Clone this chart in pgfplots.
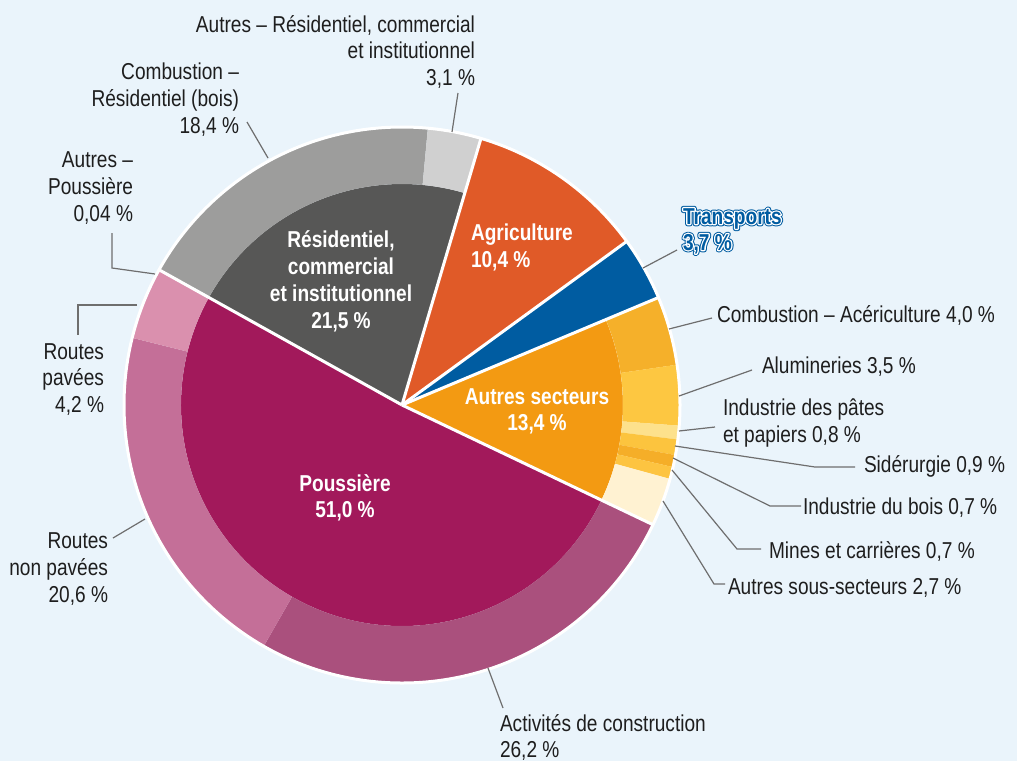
\documentclass[border=0pt]{standalone}
\usepackage{pgfplots}
\pgfplotsset{compat=1.18}
\usepackage{fontspec}
\setmainfont[FakeStretch=0.83]{Liberation Sans}

\definecolor{bg}{HTML}{EAF4FB}
\definecolor{txt}{HTML}{1E1E1E}
\definecolor{lead}{HTML}{6E6E6E}
\definecolor{resid}{HTML}{575756}
\definecolor{bois}{HTML}{9D9D9C}
\definecolor{autresres}{HTML}{D0D0D0}
\definecolor{agri}{HTML}{E05A28}
\definecolor{transp}{HTML}{005CA1}
\definecolor{autsect}{HTML}{F39A12}
\definecolor{acer}{HTML}{F5B02A}
\definecolor{alu}{HTML}{FDC741}
\definecolor{pates}{HTML}{FDE18C}
\definecolor{sider}{HTML}{FCC43E}
\definecolor{iboiss}{HTML}{F5AE28}
\definecolor{mines}{HTML}{FDC441}
\definecolor{autsous}{HTML}{FFF2D2}
\definecolor{pouss}{HTML}{A2195B}
\definecolor{constr}{HTML}{AA507D}
\definecolor{nonpav}{HTML}{C46F98}
\definecolor{pav}{HTML}{DA90AE}
\definecolor{autpous}{HTML}{E7B5C9}

% running angle, segment drawn from values (percent)
\gdef\curang{0}
\newcommand\setang[1]{\xdef\curang{#1}}
\newcommand\seg[4]{% percent, r inner, r outer, colour
  \pgfmathsetmacro\segend{\curang-3.6*#1}%
  \edef\doseg{\noexpand\fill[#4] ([shift={(\curang:#3pt)}]axis cs:402,405)
     arc[start angle=\curang, end angle=\segend, radius=#3pt]
     -- ([shift={(\segend:#2pt)}]axis cs:402,405)
     arc[start angle=\segend, end angle=\curang, radius=#2pt] -- cycle;}%
  \doseg
  \xdef\curang{\segend}}
\newcommand\sep[1]{\draw[white, line width=3pt] (axis cs:402,405) -- ([shift={(#1:279pt)}]axis cs:402,405);}
% stroked (widened) text
\newcommand\stk[2]{\special{pdf:literal direct 1 j 2 Tr #1 w}#2\special{pdf:literal direct 0 Tr}}
\newcommand\outlined[2]{%
  \node[anchor=base west, text=transp, font=\fontsize{23}{26}\selectfont\bfseries] at (axis cs:683,#1) {\stk{4.6}{#2}};
  \node[anchor=base west, text=white, font=\fontsize{23}{26}\selectfont\bfseries] at (axis cs:683,#1) {\stk{2.6}{#2}};
  \node[anchor=base west, text=transp, font=\fontsize{23}{26}\selectfont\bfseries] at (axis cs:683,#1) {#2};}

\begin{document}
\begin{tikzpicture}[
  every node/.style={inner sep=0pt, outer sep=0pt, font=\fontsize{23}{26}\selectfont, text=txt},
  leader/.style={draw=lead, line width=1.2pt}]
\begin{axis}[x=1pt, y=1pt, y dir=reverse, xmin=0, xmax=1017, ymin=0, ymax=761,
  hide axis, clip=false]
\fill[bg] (axis cs:0,0) rectangle (axis cs:1017,761);

% inner ring (main sectors), clockwise from 150.9 deg
\setang{150.9}
\seg{21.5}{0}{221}{resid}
\seg{10.4}{0}{277}{agri}
\seg{3.7}{0}{277}{transp}
\seg{13.4}{0}{221}{autsect}
\seg{51.0}{0}{221}{pouss}

% outer ring: Poussiere
\setang{-25.5}
\seg{26.2}{221}{277}{constr}
\seg{20.6}{221}{277}{nonpav}
\seg{4.2}{221}{277}{pav}
\seg{0.04}{221}{277}{autpous}
% outer ring: Residentiel
\setang{150.9}
\seg{18.4}{221}{277}{bois}
\seg{3.1}{221}{277}{autresres}
% outer ring: Autres secteurs
\setang{22.74}
\seg{13.4}{221}{277}{autsous}
\setang{22.74}
\seg{4.0}{221}{277}{acer}
\seg{3.5}{221}{277}{alu}
\seg{0.8}{221}{277}{pates}
\seg{0.9}{221}{277}{sider}
\seg{0.7}{221}{277}{iboiss}
\seg{0.7}{221}{277}{mines}
\seg{2.7}{221}{277}{autsous}

% white separators
\draw[white, line width=3pt] (axis cs:402,405) circle[radius=278pt];
\sep{150.9}
\sep{73.5}
\sep{36.06}
\sep{22.74}
\sep{-25.5}

% leader lines
\draw[leader] (axis cs:452,132) -- (axis cs:458,93);
\draw[leader] (axis cs:268,158) -- (axis cs:247,122);
\draw[leader] (axis cs:155,274) -- (axis cs:112,268) -- (axis cs:112,233);
\draw[leader] (axis cs:137,305) -- (axis cs:78,305) -- (axis cs:78,335);
\draw[leader] (axis cs:145,519) -- (axis cs:113,538);
\draw[leader] (axis cs:488,668) -- (axis cs:503,708);
\draw[leader] (axis cs:643,268) -- (axis cs:677,250);
\draw[leader] (axis cs:669,329) -- (axis cs:712,318);
\draw[leader] (axis cs:679,396) -- (axis cs:752,370);
\draw[leader] (axis cs:679,431) -- (axis cs:715,427);
\draw[leader] (axis cs:675,446) -- (axis cs:815,467) -- (axis cs:855,467);
\draw[leader] (axis cs:673,458) -- (axis cs:770,506) -- (axis cs:801,506);
\draw[leader] (axis cs:672,470) -- (axis cs:737,549) -- (axis cs:761,549);
\draw[leader] (axis cs:663,501) -- (axis cs:714,584) -- (axis cs:725,584);

% outer labels, right aligned
\node[anchor=base east] at (axis cs:475,32) {Autres – Résidentiel, commercial};
\node[anchor=base east] at (axis cs:475,58) {et institutionnel};
\node[anchor=base east] at (axis cs:475,85) {3,1 \%};
\node[anchor=base east] at (axis cs:239,79) {Combustion –};
\node[anchor=base east] at (axis cs:239,106) {Résidentiel (bois)};
\node[anchor=base east] at (axis cs:239,133) {18,4 \%};
\node[anchor=base east] at (axis cs:133,167) {Autres –};
\node[anchor=base east] at (axis cs:133,194) {Poussière};
\node[anchor=base east] at (axis cs:133,221) {0,04 \%};
\node[anchor=base east] at (axis cs:104,359) {Routes};
\node[anchor=base east] at (axis cs:104,385) {pavées};
\node[anchor=base east] at (axis cs:104,412) {4,2 \%};
\node[anchor=base east] at (axis cs:108,548) {Routes};
\node[anchor=base east] at (axis cs:108,575) {non pavées};
\node[anchor=base east] at (axis cs:108,602) {20,6 \%};
% outer labels, left aligned
\node[anchor=base west] at (axis cs:500,731) {Activités de construction};
\node[anchor=base west] at (axis cs:500,757) {26,2 \%};
\node[anchor=base west] at (axis cs:717,322) {Combustion – Acériculture 4,0 \%};
\node[anchor=base west] at (axis cs:762,373) {Alumineries 3,5 \%};
\node[anchor=base west] at (axis cs:723,415) {Industrie des pâtes};
\node[anchor=base west] at (axis cs:723,442) {et papiers 0,8 \%};
\node[anchor=base west] at (axis cs:864,472) {Sidérurgie 0,9 \%};
\node[anchor=base west] at (axis cs:803,514) {Industrie du bois 0,7 \%};
\node[anchor=base west] at (axis cs:769,558) {Mines et carrières 0,7 \%};
\node[anchor=base west] at (axis cs:728,594) {Autres sous-secteurs 2,7 \%};

% Transports (blue with white outline)
\outlined{224}{Transports}
\outlined{250}{3,7 \%}

% inner labels
\begin{scope}[every node/.append style={text=white, font=\fontsize{23}{26}\selectfont\bfseries}]
\node[anchor=base west] at (axis cs:471,240) {Agriculture};
\node[anchor=base west] at (axis cs:471,267) {10,4 \%};
\node[anchor=base] at (axis cs:341,247) {Résidentiel,};
\node[anchor=base] at (axis cs:341,274) {commercial};
\node[anchor=base] at (axis cs:341,301) {et institutionnel};
\node[anchor=base] at (axis cs:341,328) {21,5 \%};
\node[anchor=base] at (axis cs:345,491) {Poussière};
\node[anchor=base] at (axis cs:345,517) {51,0 \%};
\node[anchor=base] at (axis cs:537,404) {Autres secteurs};
\node[anchor=base] at (axis cs:537,430) {13,4 \%};
\end{scope}
\end{axis}
\end{tikzpicture}
\end{document}
